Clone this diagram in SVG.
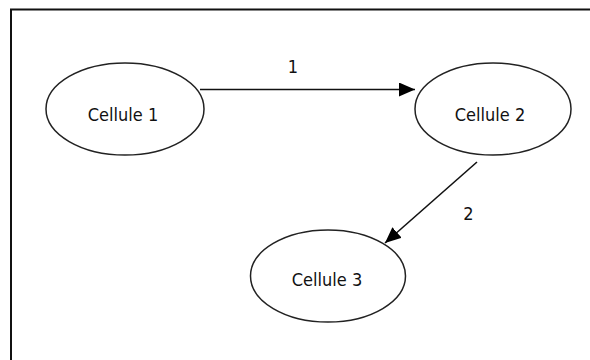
<svg xmlns="http://www.w3.org/2000/svg" width="590" height="360" viewBox="0 0 590 360">
<style>
.node ellipse{fill:#fff;stroke:#222;stroke-width:1.5}
text{font-family:"DejaVu Sans Condensed","DejaVu Sans","Liberation Sans",sans-serif;font-stretch:condensed;font-size:18px;fill:#111;text-anchor:middle}
.edge{stroke:#111;stroke-width:1.6;fill:none}
</style>
<defs>
<marker id="ah" viewBox="0 0 16 14" refX="16" refY="7" markerWidth="16" markerHeight="14" markerUnits="userSpaceOnUse" orient="auto">
<path d="M0,0 L16,7 L0,14 Z" fill="#000"/>
</marker>
</defs>
<rect x="0" y="0" width="590" height="360" fill="#fff"/>
<rect x="11" y="9.5" width="620" height="400" fill="none" stroke="#111" stroke-width="2"/>
<g id="connectors">
<line class="edge" x1="200" y1="89.5" x2="415" y2="89.5" marker-end="url(#ah)"/>
<line class="edge" x1="477" y1="162" x2="385" y2="243" marker-end="url(#ah)"/>
<text x="293" y="73">1</text>
<text x="468.5" y="220">2</text>
</g>
<g id="cellule1" class="node">
<ellipse cx="125" cy="109" rx="79" ry="46"/>
<text x="123" y="121">Cellule 1</text>
</g>
<g id="cellule2" class="node">
<ellipse cx="493" cy="109" rx="78" ry="46"/>
<text x="490" y="121">Cellule 2</text>
</g>
<g id="cellule3" class="node">
<ellipse cx="328" cy="276" rx="77.5" ry="46"/>
<text x="327" y="286">Cellule 3</text>
</g>
</svg>
